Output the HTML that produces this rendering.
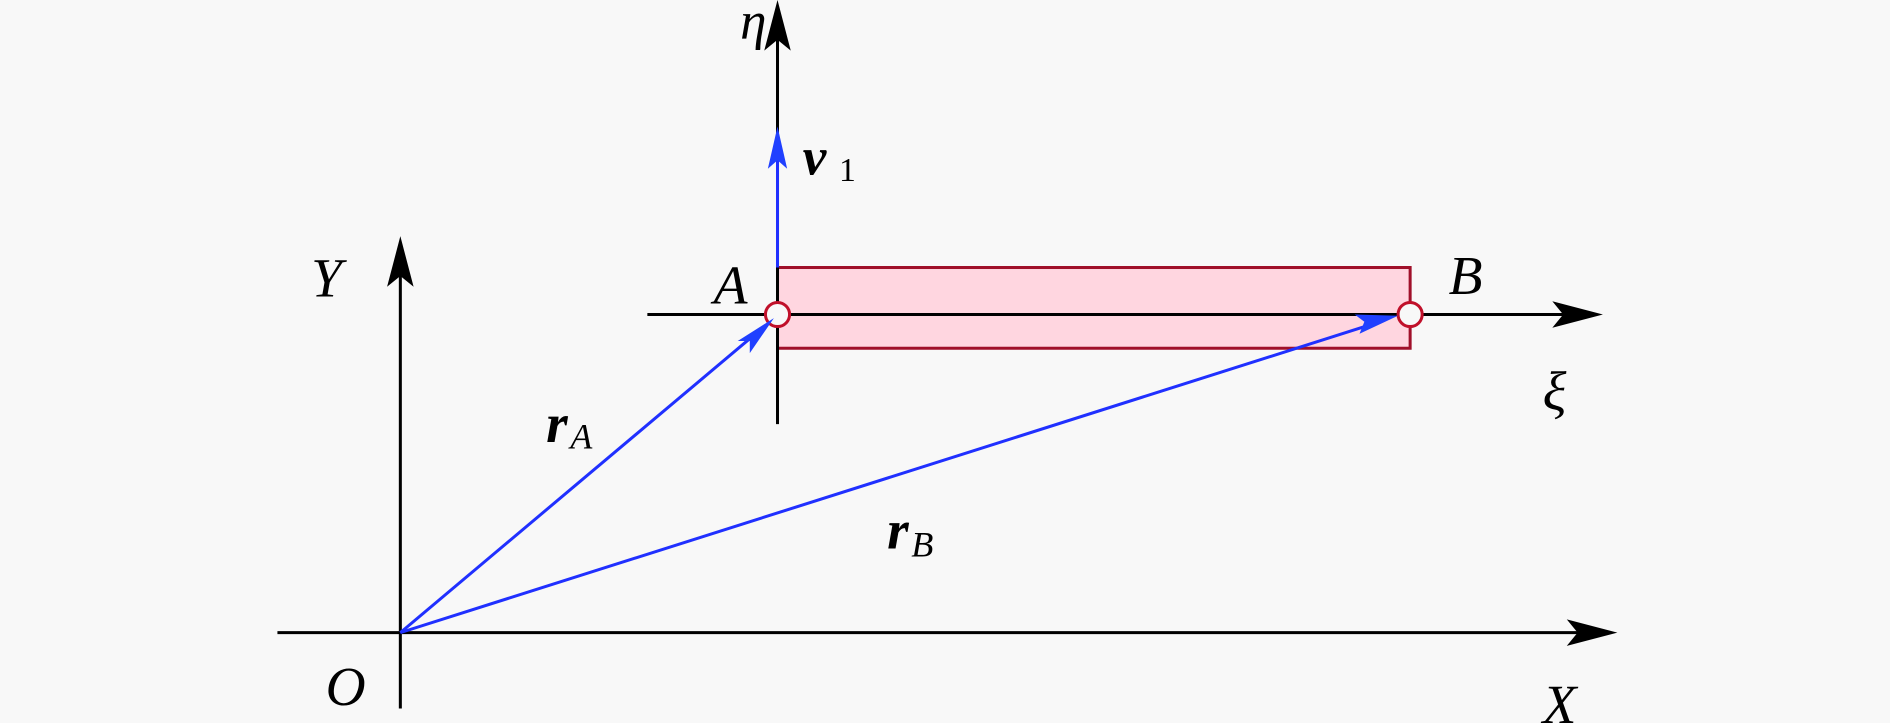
<!DOCTYPE html>
<html><head><meta charset="utf-8"><style>
html,body{margin:0;padding:0;background:#f8f8f8;}
svg{display:block;}
text{font-family:"Liberation Serif",serif;font-style:italic;fill:#000;}
</style></head><body>
<svg width="1890" height="723" viewBox="0 0 1568 600" xmlns="http://www.w3.org/2000/svg">
<rect width="1568" height="600" fill="#f8f8f8"/>
<rect x="645" y="222" width="525" height="67" fill="#ffd6e0" stroke="#a0102a" stroke-width="2.5"/>
<g stroke="#000" stroke-width="2.5" fill="none">
<line x1="230" y1="525" x2="1325" y2="525"/>
<line x1="332" y1="588" x2="332" y2="212"/>
<line x1="645" y1="352" x2="645" y2="15"/>
<line x1="537" y1="261" x2="1315" y2="261"/>
</g>
<g fill="#000">
<path d="M1342,525 L1300,514 L1309,525 L1300,536 Z"/>
<path d="M332,196 L321,238 L332,229 L343,238 Z"/>
<path d="M645,0 L634,42 L645,33 L656,42 Z"/>
<path d="M1330,261 L1288,250 L1297,261 L1288,272 Z"/>
</g>
<circle cx="645" cy="261" r="10" fill="#f8f8f8" stroke="#c0102a" stroke-width="2.5"/>
<circle cx="1170" cy="261" r="10" fill="#f8f8f8" stroke="#c0102a" stroke-width="2.5"/>
<g stroke="#2030ff" stroke-width="2.5" fill="none">
<line x1="645" y1="222" x2="645" y2="125"/>
<line x1="332" y1="525" x2="628" y2="276"/>
<line x1="332" y1="525" x2="1145" y2="267"/>
</g>
<g fill="#2040ff">
<path d="M645,105 L637,140 L645,133 L653,140 Z"/>
<path d="M642,264 L612,283 L622,283 L622,293 Z"/>
<path d="M1160,262 L1124,261 L1132,267 L1128,277 Z"/>
</g>
<text x="614" y="32" font-size="44">η</text>
<text x="666" y="145" font-size="44" font-weight="bold">v</text>
<text x="696" y="150" font-size="28" style="font-style:normal">1</text>
<text x="258" y="246" font-size="46">Y</text>
<text x="592" y="252" font-size="46">A</text>
<text x="1202" y="244" font-size="46">B</text>
<text x="1280" y="340" font-size="46">ξ</text>
<text x="453" y="367" font-size="46" font-weight="bold">r</text>
<text x="473" y="372" font-size="30">A</text>
<text x="736" y="455" font-size="46" font-weight="bold">r</text>
<text x="756" y="462" font-size="30">B</text>
<text x="270" y="585" font-size="46">O</text>
<text x="1280" y="600" font-size="46">X</text>
</svg>
</body></html>
